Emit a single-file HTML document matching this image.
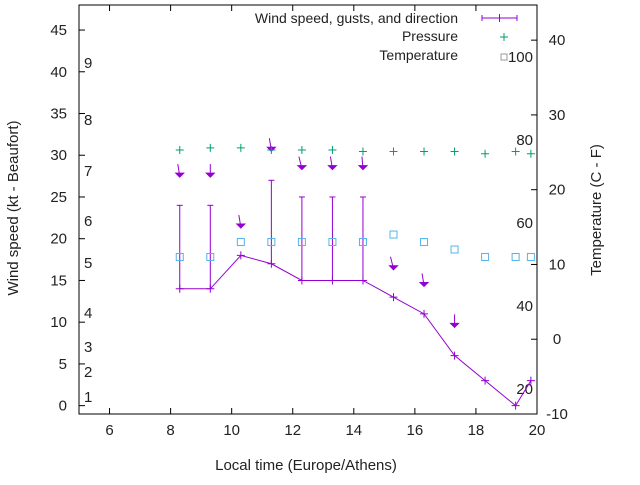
<!DOCTYPE html>
<html><head><meta charset="utf-8"><style>
body{margin:0;background:#fff}
text{font-family:"Liberation Sans",sans-serif;font-size:14px;fill:#222}
text.t{font-size:15px}
</style></head><body>
<svg id="c" width="640" height="480" xmlns="http://www.w3.org/2000/svg"></svg>
<script>
const times=[8.3,9.3,10.3,11.3,12.3,13.3,14.3,15.3,16.3,17.3,18.3,19.3,19.8];
const wind=[14,14,18,17,15,15,15,13,11,6,3,0,3];
const gusts=[24,24,null,27,25,25,25,null,null,null,null,null,null];
const pressure=[25.3,25.6,25.6,25.3,25.3,25.3,25.1,25.1,25.1,25.1,24.8,25.1,24.8];
const temperature=[11,11,13,13,13,13,13,14,13,12,11,11,11];
const arrowTimes=[8.3,9.3,10.3,11.3,12.3,13.3,14.3,15.3,16.3,17.3];
const arrowLevel=[27.5,27.5,21.4,30.6,28.4,28.4,28.4,16.4,14.4,9.5];
const arrowDx=[-2,0,-2,-2,-3,-2,-1,-3,-2,0];
const xTicks=[6,8,10,12,14,16,18,20];
const yTicks=[0,5,10,15,20,25,30,35,40,45];
const y2Ticks=[-10,0,10,20,30,40];
const beaufort=[[1,397],[2,372],[3,347],[4,313],[5,263],[6,221],[7,171],[8,120],[9,63]];
const pctLabels=[100,80,60,40,20];
const L=79,R=537,T=5,B=414;
const X=v=>L+(v-5)/15*(R-L);
const Y=v=>B-(v+1)/49*(B-T);
const Y2=v=>B-(v+10)/54.7*(B-T);
const svg=document.getElementById('c');const NS='http://www.w3.org/2000/svg';
function mk(t,a,txt){const e=document.createElementNS(NS,t);for(const k in a)e.setAttribute(k,a[k]);if(txt!==undefined)e.textContent=txt;svg.appendChild(e);return e;}
let e;
e=mk('rect',{x:L,y:T,width:R-L,height:B-T,fill:'none',stroke:'#000','stroke-width':1});

xTicks.forEach(v=>{const x=X(v);mk('line',{x1:x,y1:B,x2:x,y2:B-6,stroke:'#000'});mk('line',{x1:x,y1:T,x2:x,y2:T+6,stroke:'#000'});
e=mk('text',{class:'t',x:x,y:B+21,'text-anchor':'middle'},v);});
yTicks.forEach(v=>{const y=Y(v);mk('line',{x1:L,y1:y,x2:L+6,y2:y,stroke:'#000'});
e=mk('text',{class:'t',x:L-12,y:y+5,'text-anchor':'end'},v);});
y2Ticks.forEach(v=>{const y=Y2(v);mk('line',{x1:R,y1:y,x2:R-6,y2:y,stroke:'#000'});
e=mk('text',{class:'t',x:R+20,y:y+5,'text-anchor':'middle'},v);});
beaufort.forEach(b=>{e=mk('text',{class:'t',x:84,y:b[1]+5},b[0]);});
pctLabels.forEach((p,i)=>{e=mk('text',{class:'t',x:533,y:62+i*83,'text-anchor':'end'},p);});
const P='#9400d3';
times.forEach((t,i)=>{if(gusts[i]==null)return;const x=X(t);
e=mk('line',{x1:x,y1:Y(wind[i]),x2:x,y2:Y(gusts[i]),stroke:P});
mk('line',{x1:x-3,y1:Y(gusts[i]),x2:x+3,y2:Y(gusts[i]),stroke:P});});
e=mk('polyline',{points:times.map((t,i)=>X(t)+','+Y(wind[i])).join(' '),fill:'none',stroke:P});

times.forEach((t,i)=>{const x=X(t),y=Y(wind[i]);e=mk('path',{d:`M${x-4},${y}h8M${x},${y-4}v8`,stroke:P});});
arrowTimes.forEach((t,i)=>{const x=X(t),y=Y(arrowLevel[i]);const dx=arrowDx[i];
e=mk('path',{d:`M${x+dx},${y-12}L${x},${y}`,stroke:P,fill:'none'});
mk('path',{d:`M${x-4},${y-3}L${x+4},${y-3}L${x},${y+1}Z`,fill:P,stroke:P});});
const G='#009e73';
times.forEach((t,i)=>{const x=X(t),y=Y2(pressure[i]);e=mk('path',{d:`M${x-4},${y}h8M${x},${y-4}v8`,stroke:G});});
const B2='#56b4e9';
times.forEach((t,i)=>{const x=X(t),y=Y2(temperature[i]);e=mk('rect',{x:x-3.5,y:y-3.5,width:7,height:7,fill:'none',stroke:B2});});
e=mk('text',{x:458,y:23,'text-anchor':'end'},'Wind speed, gusts, and direction');
mk('path',{d:'M482,18h35M482,15v6M517,15v6M499.5,14v8',stroke:P});
e=mk('text',{x:458,y:41,'text-anchor':'end'},'Pressure');
mk('path',{d:'M500,37h8M504,33v8',stroke:G});
e=mk('text',{x:458,y:60,'text-anchor':'end'},'Temperature');
mk('rect',{x:501,y:54,width:6,height:6,fill:'none',stroke:'#999'});
e=mk('text',{class:'t',x:306,y:470,'text-anchor':'middle'},'Local time (Europe/Athens)');
e=mk('text',{class:'t',x:0,y:0,'text-anchor':'middle',transform:'translate(18,208) rotate(-90)'},'Wind speed (kt - Beaufort)');
e=mk('text',{class:'t',x:0,y:0,'text-anchor':'middle',transform:'translate(601,210) rotate(-90)'},'Temperature (C - F)');
</script>
</body></html>
